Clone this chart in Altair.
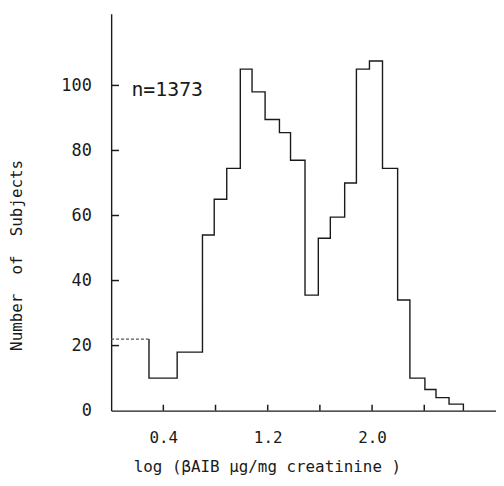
import altair as alt
import pandas as pd

# Histogram bin edges (log units) and counts
bin_edges = [0.0, 0.29, 0.506, 0.70, 0.79, 0.886, 0.99, 1.08, 1.18, 1.29, 1.375,
             1.486, 1.588, 1.68, 1.79, 1.88, 1.98, 2.08, 2.196, 2.29, 2.405,
             2.49, 2.59, 2.70]
counts = [22, 10, 18, 54, 65, 74.5, 105, 98, 89.5, 85.5, 77, 35.5, 53, 59.5,
          70, 105, 107.5, 74.5, 34, 10, 6.5, 4, 2]
y_ticks = [0, 20, 40, 60, 80, 100]
x_labels = [0.4, 1.2, 2.0]
x_minor = [0.4, 0.8, 1.2, 1.6, 2.0, 2.4]
y_minor = [20, 40, 60, 80, 100]

FONT = "DejaVu Sans Mono"
INK = "#1a1a1a"
NB = "\u00a0"

rows = [{"x": bin_edges[1], "y": counts[0], "o": 0}]
for i in range(1, len(counts)):
    rows.append({"x": bin_edges[i], "y": counts[i], "o": i})
rows.append({"x": bin_edges[-1], "y": 0, "o": len(counts)})
solid = pd.DataFrame(rows)
dashed = pd.DataFrame({"x": [bin_edges[0], bin_edges[1]], "y": [counts[0], counts[0]], "o": [0, 1]})

xs = alt.Scale(domain=[0, 2.95], nice=False, zero=False)
ys = alt.Scale(domain=[0, 122], nice=False)

x_axis = alt.Axis(values=x_labels, format=".1f", tickSize=0, labelPadding=19,
                  grid=False, domainColor=INK, domainWidth=1.4,
                  labelFont=FONT, labelFontSize=16, labelColor=INK,
                  title="log (βAIB µg/mg creatinine )".replace(" ", NB), titleFont=FONT,
                  titleFontSize=16, titleFontWeight="normal", titleColor=INK,
                  titleX=157, titleY=56, titleBaseline="middle")
y_axis = alt.Axis(values=y_ticks, tickSize=0, labelPadding=20, grid=False,
                  domainColor=INK, domainWidth=1.4,
                  labelFont=FONT, labelFontSize=17, labelColor=INK,
                  title=f"Number{NB}{NB}of{NB}{NB}Subjects", titleFont=FONT, titleFontSize=16,
                  titleFontWeight="normal", titleColor=INK,
                  titleX=-95, titleY=243, titleBaseline="middle", titleAlign="center")

line = alt.Chart(solid).mark_line(interpolate="step-after", color=INK, strokeWidth=1.4).encode(
    x=alt.X("x:Q", scale=xs, axis=x_axis),
    y=alt.Y("y:Q", scale=ys, axis=y_axis),
    order="o:Q",
)

dash = alt.Chart(dashed).mark_line(color="#555", strokeWidth=1.2, strokeDash=[3, 2]).encode(
    x=alt.X("x:Q", scale=xs), y=alt.Y("y:Q", scale=ys), order="o:Q"
)

# Inward tick marks, drawn through the same scales (same field names as the line)
xt_df = pd.DataFrame({"x": x_minor, "y": [0] * len(x_minor), "y_end": [1.8] * len(x_minor)})
xt = alt.Chart(xt_df).mark_rule(color=INK, strokeWidth=1.5).encode(
    x=alt.X("x:Q", scale=xs), y=alt.Y("y:Q", scale=ys), y2="y_end:Q"
)
yt_df = pd.DataFrame({"y": y_minor, "x": [0] * len(y_minor), "x_end": [0.06] * len(y_minor)})
yt = alt.Chart(yt_df).mark_rule(color=INK, strokeWidth=1.5).encode(
    y=alt.Y("y:Q", scale=ys), x=alt.X("x:Q", scale=xs), x2="x_end:Q"
)

label = alt.Chart(pd.DataFrame({"x": [0.155], "y": [98.5], "t": ["n=1373"]})).mark_text(
    align="left", baseline="middle", font=FONT, fontSize=20, color=INK
).encode(x=alt.X("x:Q", scale=xs), y=alt.Y("y:Q", scale=ys), text="t:N")

chart = alt.layer(line, dash, xt, yt, label).properties(
    width=388, height=400,
    background="white",
    autosize=alt.AutoSizeParams(type="none"),
    padding={"left": 104, "top": 4, "right": 0, "bottom": 66},
).configure_view(stroke=None).configure_axis(grid=False)

chart.save("out.html", embed_options={"renderer": "svg", "actions": False})
